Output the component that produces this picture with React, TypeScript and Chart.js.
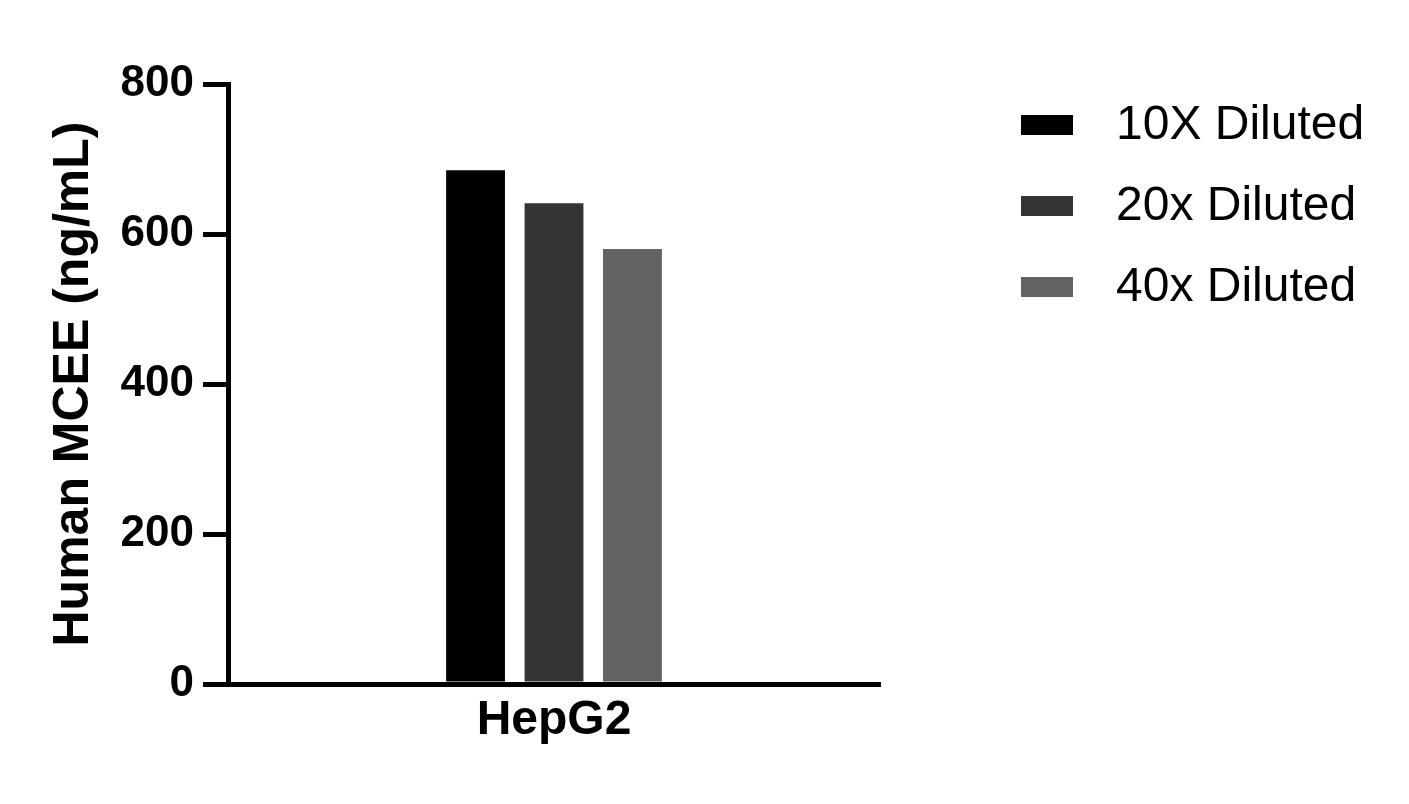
import React, { useEffect, useRef } from "react";
import { Chart, registerables } from "chart.js";

Chart.register(...registerables);

const categories = ["HepG2"];
const seriesLabels = ["10X Diluted", "20x Diluted", "40x Diluted"];
const seriesValues = [[685], [641], [580]];
const seriesColors = ["#000000", "#333333", "#626262"];
const yTicks = [0, 200, 400, 600, 800];
const yTitle = "Human MCEE (ng/mL)";

const FONT = "'Liberation Sans', Arial, sans-serif";

const legendPlugin = {
  id: "customLegend",
  afterDraw(chart: any) {
    const ctx = chart.ctx;
    ctx.save();
    const rows = [125, 206, 287];
    chart.data.datasets.forEach((ds: any, i: number) => {
      const cy = rows[i];
      ctx.fillStyle = ds.backgroundColor;
      ctx.fillRect(1021, cy - 10, 52, 20);
      ctx.fillStyle = "#000";
      ctx.font = `normal 48px ${FONT}`;
      ctx.textBaseline = "middle";
      ctx.textAlign = "left";
      ctx.fillText(ds.label, 1116, cy + 1);
    });
    ctx.restore();
  },
};

export default function App() {
  const ref = useRef<HTMLCanvasElement>(null);
  useEffect(() => {
    if (!ref.current) return;
    const chart = new Chart(ref.current, {
      type: "bar",
      data: {
        labels: categories,
        datasets: seriesLabels.map((label, i) => ({
          label,
          data: seriesValues[i],
          backgroundColor: seriesColors[i],
          borderWidth: 0,
          categoryPercentage: 0.361,
          barPercentage: 0.75,
        })),
      },
      options: {
        responsive: false,
        animation: false,
        layout: { padding: { top: 84, right: 529, left: 0, bottom: 0 } },
        plugins: { legend: { display: false }, tooltip: { enabled: false } },
        scales: {
          x: {
            grid: { display: false, drawTicks: false },
            border: { display: true, width: 5, color: "#000" },
            ticks: {
              color: "#000",
              padding: 8,
              font: { family: FONT, size: 48, weight: "bold" },
            },
            afterFit: (s: any) => {
              s.height = 120;
            },
          },
          y: {
            min: 0,
            max: 800,
            afterBuildTicks: (s: any) => {
              s.ticks = yTicks.map((v) => ({ value: v }));
            },
            grid: {
              drawOnChartArea: false,
              drawTicks: true,
              tickLength: 25,
              lineWidth: 5,
              color: "#000",
            },
            border: { display: true, width: 5, color: "#000" },
            ticks: {
              color: "#000",
              padding: 9,
              font: { family: FONT, size: 44, weight: "bold" },
            },
            title: {
              display: true,
              text: yTitle,
              color: "#000",
              font: { family: FONT, size: 50, weight: "bold" },
              padding: { top: 44, bottom: 0 },
            },
            afterFit: (s: any) => {
              s.width = 228;
            },
          },
        },
      },
      plugins: [legendPlugin],
    });
    return () => chart.destroy();
  }, []);
  return (
    <div style={{ position: "absolute", left: 0, top: 0, width: 1409, height: 804, background: "#fff" }}>
      <canvas ref={ref} width={1409} height={804} style={{ display: "block" }} />
    </div>
  );
}
